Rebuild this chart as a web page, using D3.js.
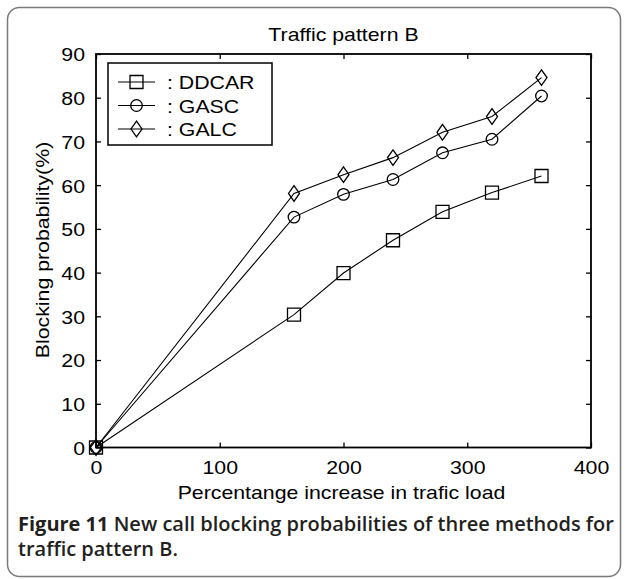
<!DOCTYPE html>
<html>
<head>
<meta charset="utf-8">
<script src="https://cdn.jsdelivr.net/npm/d3@7"></script>
<style>
  html, body { margin: 0; padding: 0; background: #ffffff; }
  svg { display: block; }
</style>
</head>
<body>
<div id="chart"></div>
<script>
// ---- data ----
const loads = [0, 160, 200, 240, 280, 320, 360];
const ddcar = [0, 30.4, 39.9, 47.4, 53.9, 58.3, 62.1];
const gasc  = [0, 52.7, 57.9, 61.3, 67.4, 70.5, 80.4];
const galc  = [0, 58.1, 62.4, 66.3, 72.1, 75.7, 84.6];
const seriesNames = ["DDCAR", "GASC", "GALC"];
const seriesMarkers = ["square", "circle", "diamond"];
const xTicks = [0, 100, 200, 300, 400];
const yTicks = [0, 10, 20, 30, 40, 50, 60, 70, 80, 90];
const titleText = "Traffic pattern B";
const xLabelText = "Percentange increase in trafic load";
const yLabelText = "Blocking probability(%)";
const captionBold = "Figure 11";
const captionLine1 = " New call blocking probabilities of three methods for";
const captionLine2 = "traffic pattern B.";

const W = 627, H = 579;
const m = { left: 96, top: 54, right: 591, bottom: 447.5 };
const chartFont = "'Liberation Sans', Arial, Helvetica, sans-serif";
const stretch = 1.12;

const svg = d3.select("#chart").append("svg")
  .attr("width", W).attr("height", H);

// outer rounded border
svg.append("rect")
  .attr("x", 7.5).attr("y", 7.5)
  .attr("width", 613).attr("height", 569)
  .attr("rx", 12).attr("ry", 12)
  .attr("fill", "none").attr("stroke", "#7a7a7a").attr("stroke-width", 1.5);

const x = d3.scaleLinear().domain([0, 400]).range([m.left, m.right]);
const y = d3.scaleLinear().domain([0, 90]).range([m.bottom, m.top]);

function stretchText(sel) {
  sel.each(function () {
    const len = this.getComputedTextLength();
    if (len > 0) {
      d3.select(this).attr("textLength", len * stretch).attr("lengthAdjust", "spacingAndGlyphs");
    }
  });
}

// axes with inward ticks on all four sides
const tickLen = 5;
const axB = d3.axisBottom(x).tickValues(xTicks).tickSizeInner(-tickLen).tickSizeOuter(0).tickPadding(13).tickFormat(d3.format("d"));
const axT = d3.axisTop(x).tickValues(xTicks).tickSizeInner(-tickLen).tickSizeOuter(0).tickFormat("");
const axL = d3.axisLeft(y).tickValues(yTicks).tickSizeInner(-tickLen).tickSizeOuter(0).tickPadding(11).tickFormat(d3.format("d"));
const axR = d3.axisRight(y).tickValues(yTicks).tickSizeInner(-tickLen).tickSizeOuter(0).tickFormat("");

function styleAxis(g) {
  g.select(".domain").remove();
  g.selectAll(".tick line").attr("stroke", "#000").attr("stroke-width", 1.3);
  g.selectAll(".tick text").attr("fill", "#000")
    .style("font-family", chartFont).style("font-size", "19px");
}

const gB = svg.append("g").attr("transform", `translate(0,${m.bottom})`).call(axB).call(styleAxis);
gB.selectAll(".tick text").call(stretchText);
svg.append("g").attr("transform", `translate(0,${m.top})`).call(axT).call(styleAxis);
const gL = svg.append("g").attr("transform", `translate(${m.left},0)`).call(axL).call(styleAxis);
gL.selectAll(".tick text").attr("dy", "0.36em").call(stretchText);
svg.append("g").attr("transform", `translate(${m.right},0)`).call(axR).call(styleAxis);

// box
svg.append("rect")
  .attr("x", m.left).attr("y", m.top)
  .attr("width", m.right - m.left).attr("height", m.bottom - m.top)
  .attr("fill", "none").attr("stroke", "#000").attr("stroke-width", 1.8);

// markers
function markerPath(type) {
  if (type === "square") return "M-6.5,-6.5H6.5V6.5H-6.5Z";
  if (type === "circle") return "M-5.8,0A5.8,5.8 0 1,0 5.8,0A5.8,5.8 0 1,0 -5.8,0Z";
  return "M0,-7.8L5.5,0L0,7.8L-5.5,0Z";
}

const allSeries = [ddcar, gasc, galc];
const line = d3.line().x(d => x(d[0])).y(d => y(d[1]));

allSeries.forEach((vals, i) => {
  const pts = loads.map((l, j) => [l, vals[j]]);
  svg.append("path").datum(pts)
    .attr("d", line).attr("fill", "none")
    .attr("stroke", "#000").attr("stroke-width", 1.1);
  svg.selectAll(null).data(pts).enter().append("path")
    .attr("transform", d => `translate(${x(d[0])},${y(d[1])})`)
    .attr("d", markerPath(seriesMarkers[i]))
    .attr("fill", "none").attr("stroke", "#000").attr("stroke-width", 1.3);
});

// legend
const lg = svg.append("g");
lg.append("rect").attr("x", 108).attr("y", 63).attr("width", 164).attr("height", 82)
  .attr("fill", "#fff").attr("stroke", "#000").attr("stroke-width", 1.5);
seriesNames.forEach((name, i) => {
  const ly = 82 + i * 23.5;
  lg.append("line").attr("x1", 118).attr("x2", 155).attr("y1", ly).attr("y2", ly)
    .attr("stroke", "#000").attr("stroke-width", 1.1);
  lg.append("path").attr("transform", `translate(136.5,${ly})`)
    .attr("d", markerPath(seriesMarkers[i]))
    .attr("fill", "none").attr("stroke", "#000").attr("stroke-width", 1.3);
  lg.append("text").attr("x", 167).attr("y", ly + 7)
    .style("font-family", chartFont).style("font-size", "19px")
    .text(": " + name).call(stretchText);
});

// title
svg.append("text").attr("x", (m.left + m.right) / 2).attr("y", 41)
  .attr("text-anchor", "middle")
  .style("font-family", chartFont).style("font-size", "19px")
  .text(titleText).call(stretchText);

// x label
svg.append("text").attr("x", (m.left + m.right) / 2 - 2).attr("y", 499)
  .attr("text-anchor", "middle")
  .style("font-family", chartFont).style("font-size", "19px")
  .text(xLabelText).call(stretchText);

// y label
svg.append("text")
  .attr("transform", `translate(49,${250}) rotate(-90)`)
  .attr("text-anchor", "middle")
  .style("font-family", chartFont).style("font-size", "19px")
  .text(yLabelText).call(stretchText);

// caption
const cap = svg.append("g")
  .style("font-family", "'Open Sans', 'Noto Sans', sans-serif")
  .style("font-size", "20px").style("font-weight", "bold").attr("fill", "#231f20");
const t1 = cap.append("text").attr("x", 18).attr("y", 531);
t1.append("tspan").text(captionBold);
t1.append("tspan").style("font-weight", "600").text(captionLine1);
cap.append("text").attr("x", 18).attr("y", 556).style("font-weight", "600").text(captionLine2);
</script>
</body>
</html>
